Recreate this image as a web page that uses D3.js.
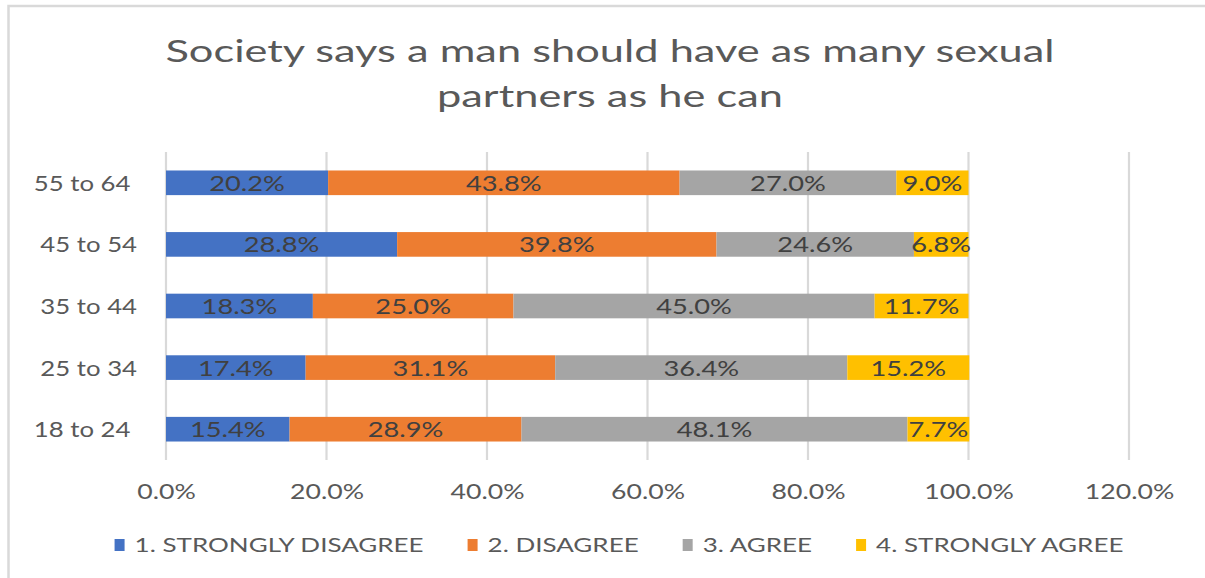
<!DOCTYPE html>
<html>
<head>
<meta charset="utf-8">
<script src="https://cdn.jsdelivr.net/npm/d3@7"></script>
<style>
  html, body { margin: 0; padding: 0; background: #ffffff; }
  svg { display: block; }
  text { font-family: Lato, "Open Sans", sans-serif; }
</style>
</head>
<body>
<svg id="chart" width="1205" height="578"></svg>
<script>
// Age groups, bottom to top
const categories = ["18 to 24 ", "25 to 34", "35 to 44", "45 to 54", "55 to 64 "];
const seriesNames = ["1. STRONGLY DISAGREE", "2. DISAGREE", "3. AGREE", "4. STRONGLY AGREE"];
const stronglyDisagree = [15.4, 17.4, 18.3, 28.8, 20.2];
const disagree         = [28.9, 31.1, 25.0, 39.8, 43.8];
const agree            = [48.1, 36.4, 45.0, 24.6, 27.0];
const stronglyAgree    = [7.7, 15.2, 11.7, 6.8, 9.0];
const xTicks = [0, 20, 40, 60, 80, 100, 120];
const titleLines = ["Society says a man should have as many sexual", "partners as he can"];

const colors = ["#4472C4", "#ED7D31", "#A5A5A5", "#FFC000"];
// horizontal text stretch per text role
const SX = { title: 1.4, cat: 1.17, data: 1.33, tick: 1.3, legend: 1.3 };

const svg = d3.select("#chart");
const W = 1205, H = 578;

// frame
svg.append("rect")
  .attr("x", 8.5).attr("y", 6)
  .attr("width", W + 10).attr("height", H + 10)
  .attr("fill", "#ffffff")
  .attr("stroke", "#d9d9d9").attr("stroke-width", 2.5);

function stretchedText(parent, x, y, str, anchor, sx) {
  const g = parent.append("g").attr("transform", `translate(${x},${y})`);
  return g.append("text")
    .attr("transform", `scale(${sx},1)`)
    .attr("text-anchor", anchor || "start")
    .text(str);
}

// title
titleLines.forEach((line, i) => {
  stretchedText(svg, 610, 62 + i * 45, line, "middle", SX.title)
    .attr("font-size", 31).attr("fill", "#595959");
});

const x = d3.scaleLinear().domain([0, 120]).range([166, 1129]);
const y = d3.scaleBand()
  .domain(categories.slice().reverse())
  .range([152, 460])
  .paddingInner(0.6).paddingOuter(0.3);

// gridlines
svg.append("g").selectAll("line").data(xTicks).join("line")
  .attr("x1", d => x(d)).attr("x2", d => x(d))
  .attr("y1", 152).attr("y2", 460)
  .attr("stroke", "#d9d9d9").attr("stroke-width", 2.2);

// x axis labels
const xAxis = svg.append("g")
  .attr("transform", "translate(0,484)")
  .call(d3.axisBottom(x).tickValues(xTicks).tickSize(0).tickPadding(0)
    .tickFormat(d => d3.format(".1f")(d) + "%"));
xAxis.select(".domain").remove();
xAxis.selectAll("text")
  .attr("font-family", "Lato, 'Open Sans', sans-serif")
  .attr("font-size", 20.5).attr("fill", "#595959")
  .attr("dy", null).attr("y", 15)
  .attr("transform", `scale(${SX.tick},1)`);

// category labels
categories.forEach(c => {
  stretchedText(svg, 137, y(c) + y.bandwidth() / 2 + 8, c, "end", SX.cat)
    .attr("font-size", 22).attr("fill", "#595959")
    .style("white-space", "pre");
});

// stacked bars
const series = [stronglyDisagree, disagree, agree, stronglyAgree];
const rows = categories.map((c, i) => {
  const r = { cat: c };
  seriesNames.forEach((s, k) => { r[s] = series[k][i]; });
  return r;
});
const stacked = d3.stack().keys(seriesNames)(rows);

const layers = svg.append("g").selectAll("g").data(stacked).join("g")
  .attr("fill", (d, i) => colors[i]);
layers.selectAll("rect").data(d => d).join("rect")
  .attr("x", d => x(d[0]))
  .attr("width", d => x(d[1]) - x(d[0]))
  .attr("y", d => y(d.data.cat))
  .attr("height", y.bandwidth());

// data labels
const labelLayer = svg.append("g");
stacked.forEach(layer => {
  layer.forEach(d => {
    const v = d.data[layer.key];
    stretchedText(labelLayer, (x(d[0]) + x(d[1])) / 2, y(d.data.cat) + y.bandwidth() / 2 + 8,
      d3.format(".1f")(v) + "%", "middle", SX.data)
      .attr("font-size", 20.5).attr("fill", "#404040");
  });
});

// legend
const legend = svg.append("g");
let cursor = 0;
seriesNames.forEach((s, i) => {
  const it = legend.append("g").attr("transform", `translate(${cursor},0)`);
  it.append("rect").attr("x", 0).attr("y", -6).attr("width", 10).attr("height", 12)
    .attr("fill", colors[i]);
  const t = stretchedText(it, 20, 7, s, "start", SX.legend)
    .attr("font-size", 20).attr("fill", "#595959");
  const w = t.node().getComputedTextLength() * SX.legend;
  cursor += 20 + w + 44;
});
const legendWidth = cursor - 44;
legend.attr("transform", `translate(${619 - legendWidth / 2},545)`);
</script>
</body>
</html>
